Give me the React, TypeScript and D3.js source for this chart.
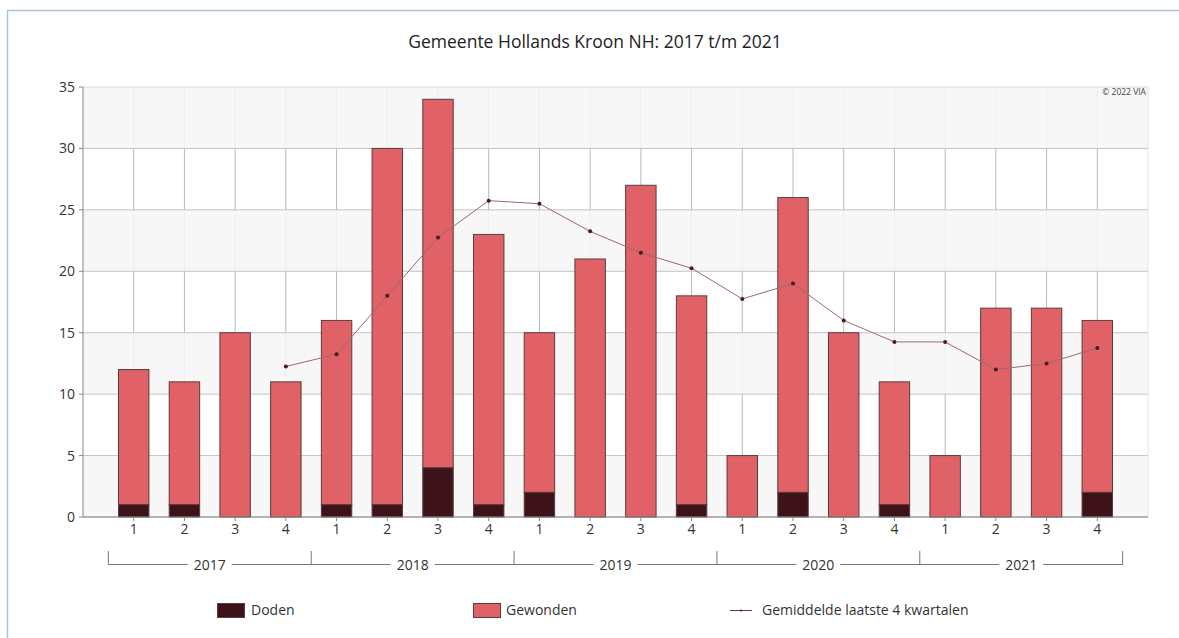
import React from "react";
import * as d3 from "d3";

const quarters = ["1","2","3","4","1","2","3","4","1","2","3","4","1","2","3","4","1","2","3","4"];
const years = ["2017","2018","2019","2020","2021"];
const doden = [1,1,0,0, 1,1,4,1, 2,0,0,1, 0,2,0,1, 0,0,0,2];
const gewonden = [11,10,15,11, 15,29,30,22, 13,21,27,17, 5,24,15,10, 5,17,17,14];
const gemiddelde: (number | null)[] = [null,null,null,12.25, 13.25,18,22.75,25.75, 25.5,23.25,21.5,20.25, 17.75,19,16,14.25, 14.25,12,12.5,13.75];
const yTicks = [0,5,10,15,20,25,30,35];

const W = 1179, H = 638;
const left = 83, right = 1148, top = 87, bottom = 517;
const font = "'Open Sans', 'Noto Sans', sans-serif";

export default function App() {
  const x = d3.scaleLinear().domain([0, quarters.length + 1]).range([left, right]);
  const y = d3.scaleLinear().domain([0, 35]).range([bottom, top]);
  const slot = x(1) - x(0);
  const bw = slot * 0.6;

  const line = d3.line<[number, number | null]>()
    .defined(d => d[1] != null)
    .x(d => x(d[0] + 1))
    .y(d => y(d[1] as number));
  const lineData: [number, number | null][] = gemiddelde.map((v, i) => [i, v]);

  const bands = [];
  for (let i = 0; i < yTicks.length - 1; i++) {
    if (i % 2 === 0) bands.push([yTicks[i], yTicks[i + 1]]);
  }

  return (
    <svg width={W} height={H} style={{ position: "fixed", left: 0, top: 0, background: "#fff" }}>
      <rect x={7.5} y={10.5} width={W + 20} height={H + 20} fill="#fff" stroke="#a9c5de" strokeWidth={1.5} />
      <text x={595} y={48} textAnchor="middle" fontFamily={font} fontSize={17.5} fill="#222">
        Gemeente Hollands Kroon NH: 2017 t/m 2021
      </text>

      {/* vertical grid */}
      {quarters.map((_, i) => (
        <line key={"v" + i} x1={x(i + 1)} x2={x(i + 1)} y1={top} y2={bottom} stroke="#b8b8b8" strokeWidth={1} />
      ))}
      {/* bands */}
      {bands.map(([a, b], i) => (
        <rect key={"b" + i} x={left} width={right - left} y={y(b)} height={y(a) - y(b)} fill="#f6f6f6" fillOpacity={0.85} />
      ))}
      {/* horizontal grid */}
      {yTicks.map(t => (
        <line key={"h" + t} x1={left} x2={right} y1={y(t)} y2={y(t)} stroke={t === 35 ? "#dcdcdc" : "#c4c4c4"} strokeWidth={1} />
      ))}
      <line x1={right} x2={right} y1={top} y2={bottom} stroke="#e4e4e4" />

      <text x={1146} y={95} textAnchor="end" fontFamily={font} fontSize={8.5} fill="#444">© 2022 VIA</text>

      {/* y axis */}
      <line x1={left} x2={left} y1={top} y2={bottom} stroke="#888" />
      {yTicks.map(t => (
        <g key={"yt" + t}>
          <line x1={left - 4} x2={left} y1={y(t)} y2={y(t)} stroke="#888" />
          <text x={left - 8} y={y(t) + 5} textAnchor="end" fontFamily={font} fontSize={14} fill="#333">{t}</text>
        </g>
      ))}

      {/* bars */}
      {quarters.map((_, i) => {
        const cx = x(i + 1);
        return (
          <g key={"bar" + i}>
            {gewonden[i] > 0 && (
              <rect x={cx - bw / 2} width={bw} y={y(doden[i] + gewonden[i])} height={y(doden[i]) - y(doden[i] + gewonden[i])}
                fill="#e06266" stroke="#5b3b3d" strokeWidth={1} />
            )}
            {doden[i] > 0 && (
              <rect x={cx - bw / 2} width={bw} y={y(doden[i])} height={y(0) - y(doden[i])}
                fill="#3d1219" stroke="#5b3b3d" strokeWidth={1} />
            )}
          </g>
        );
      })}

      {/* x axis */}
      <line x1={left} x2={right} y1={bottom} y2={bottom} stroke="#888" />
      {quarters.map((q, i) => (
        <g key={"xt" + i}>
          <line x1={x(i + 1)} x2={x(i + 1)} y1={bottom} y2={bottom + 4} stroke="#888" />
          <text x={x(i + 1)} y={bottom + 17} textAnchor="middle" fontFamily={font} fontSize={14} fill="#333">{q}</text>
        </g>
      ))}

      {/* year brackets */}
      {years.map((yr, j) => {
        const x0 = x(j * 4 + 0.5);
        const x1 = x(j * 4 + 4.5);
        const cx = (x0 + x1) / 2;
        return (
          <g key={"yr" + j}>
            <line x1={x0} x2={x1} y1={564.5} y2={564.5} stroke="#777" />
            <line x1={x0} x2={x0} y1={551} y2={565} stroke="#777" />
            {j === years.length - 1 && <line x1={x1} x2={x1} y1={551} y2={565} stroke="#777" />}
            <rect x={cx - 22} y={556} width={44} height={16} fill="#fff" />
            <text x={cx} y={570} textAnchor="middle" fontFamily={font} fontSize={14} fill="#333">{yr}</text>
          </g>
        );
      })}

      {/* average line */}
      <path d={line(lineData) || ""} fill="none" stroke="#9a6a6f" strokeWidth={1} />
      {lineData.filter(d => d[1] != null).map(d => (
        <circle key={"p" + d[0]} cx={x(d[0] + 1)} cy={y(d[1] as number)} r={2} fill="#4a1820" />
      ))}

      {/* legend */}
      <rect x={217.5} y={603.5} width={27} height={14} fill="#3d1219" stroke="#5b3b3d" />
      <text x={251} y={615} fontFamily={font} fontSize={14} fill="#333">Doden</text>
      <rect x={473.5} y={603.5} width={27} height={14} fill="#e06266" stroke="#5b3b3d" />
      <text x={506} y={615} fontFamily={font} fontSize={14} fill="#333">Gewonden</text>
      <line x1={730} x2={752} y1={610.5} y2={610.5} stroke="#6a3a40" />
      <circle cx={741} cy={610.5} r={1} fill="#4a1820" />
      <text x={762} y={615} fontFamily={font} fontSize={14} fill="#333">Gemiddelde laatste 4 kwartalen</text>
    </svg>
  );
}
